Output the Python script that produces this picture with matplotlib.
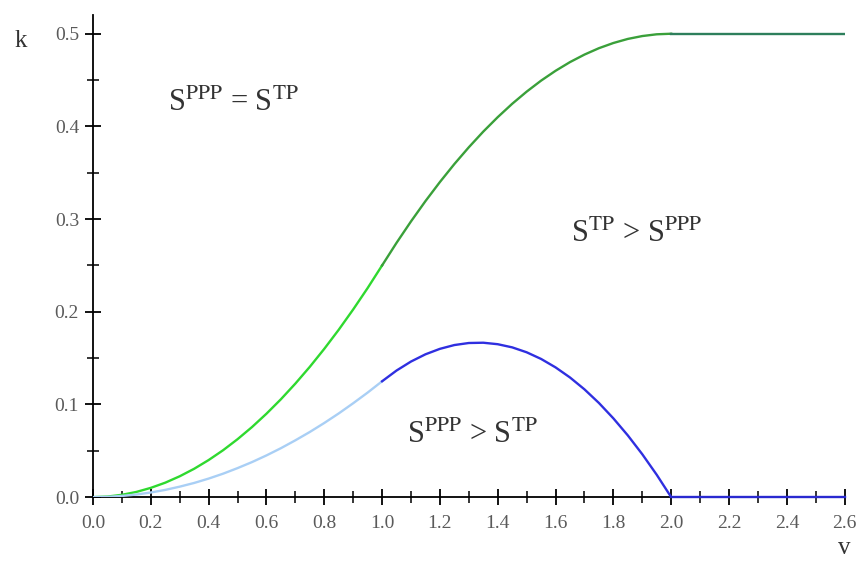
import numpy as np
import matplotlib.pyplot as plt
from matplotlib.ticker import MultipleLocator

plt.rcParams['font.family'] = ['Liberation Serif', 'DejaVu Serif']
plt.rcParams['mathtext.fontset'] = 'stix'

# values
v_lo = [0.0, 0.05, 0.1, 0.15, 0.2, 0.25, 0.3, 0.35, 0.4, 0.45, 0.5,
        0.55, 0.6, 0.65, 0.7, 0.75, 0.8, 0.85, 0.9, 0.95, 1.0]
v_hi = [1.0, 1.05, 1.1, 1.15, 1.2, 1.25, 1.3, 1.35, 1.4, 1.45, 1.5,
        1.55, 1.6, 1.65, 1.7, 1.75, 1.8, 1.85, 1.9, 1.95, 2.0]
v_flat = [2.0, 2.6]

green_lo = [0.0, 0.0006, 0.0025, 0.0056, 0.01, 0.0156, 0.0225, 0.0306, 0.04, 0.0506, 0.0625,
            0.0756, 0.09, 0.1056, 0.1225, 0.1406, 0.16, 0.1806, 0.2025, 0.2256, 0.25]
green_hi = [0.25, 0.2744, 0.2975, 0.3194, 0.34, 0.3594, 0.3775, 0.3944, 0.41, 0.4244, 0.4375,
            0.4494, 0.46, 0.4694, 0.4775, 0.4844, 0.49, 0.4944, 0.4975, 0.4994, 0.5]
green_flat = [0.5, 0.5]

blue_lo = [0.0, 0.0003, 0.0013, 0.0028, 0.005, 0.0078, 0.0113, 0.0153, 0.02, 0.0253, 0.0313,
           0.0378, 0.045, 0.0528, 0.0613, 0.0703, 0.08, 0.0903, 0.1013, 0.1128, 0.125]
blue_hi = [0.125, 0.1366, 0.1463, 0.1541, 0.16, 0.1641, 0.1663, 0.1666, 0.165, 0.1616, 0.1563,
           0.1491, 0.14, 0.1291, 0.1163, 0.1016, 0.085, 0.0666, 0.0463, 0.0241, 0.0]
blue_flat = [0.0, 0.0]

fig = plt.figure(figsize=(8.61, 5.63), dpi=100)
ax = fig.add_axes([0.108, 0.117, 0.873, 0.856])

lw = 1.7
ax.plot(v_lo, green_lo, color='#2fd92f', lw=lw, zorder=3)
ax.plot(v_hi, green_hi, color='#3aa03a', lw=lw, zorder=3)
ax.plot(v_flat, green_flat, color='#2e7f5c', lw=lw, zorder=3)
ax.plot(v_lo, blue_lo, color='#a9cff5', lw=lw, zorder=3)
ax.plot(v_hi, blue_hi, color='#2f2fe0', lw=lw, zorder=3)
ax.plot(v_flat, blue_flat, color='#2a2ad0', lw=lw, zorder=4, clip_on=False)

ax.set_xlim(0, 2.6)
ax.set_ylim(0, 0.52)
ax.spines['top'].set_visible(False)
ax.spines['right'].set_visible(False)
for s in ['left', 'bottom']:
    ax.spines[s].set_linewidth(1.3)

xt = np.arange(0, 2.61, 0.2)
yt = np.arange(0, 0.51, 0.1)
ax.set_xticks(xt)
ax.set_xticklabels(['%.1f' % t for t in xt])
ax.set_yticks(yt)
ax.set_yticklabels(['%.1f' % t for t in yt])
ax.xaxis.set_minor_locator(MultipleLocator(0.1))
ax.yaxis.set_minor_locator(MultipleLocator(0.05))
ax.tick_params(which='major', direction='inout', length=12, width=1.3,
               labelsize=14, labelcolor='#5a5a5a')
ax.tick_params(axis='x', which='major', pad=7)
ax.tick_params(axis='y', which='major', pad=4)
ax.tick_params(which='minor', direction='inout', length=8, width=1.1)

ax.text(-0.25, 0.492, 'k', fontsize=18, color='#333333', ha='center', va='center',
        clip_on=False)
ax.text(2.6, -0.055, 'v', fontsize=18, color='#333333', ha='center', va='center',
        clip_on=False)

lab = dict(fontsize=22, color='#333333', va='center', ha='left')
ax.text(0.26, 0.425, r'S$^{\mathrm{PPP}}$ = S$^{\mathrm{TP}}$', **lab)
ax.text(1.655, 0.284, r'S$^{\mathrm{TP}}$ > S$^{\mathrm{PPP}}$', **lab)
ax.text(1.085, 0.067, r'S$^{\mathrm{PPP}}$ > S$^{\mathrm{TP}}$', **lab)

fig.savefig('out.png', dpi=100)
